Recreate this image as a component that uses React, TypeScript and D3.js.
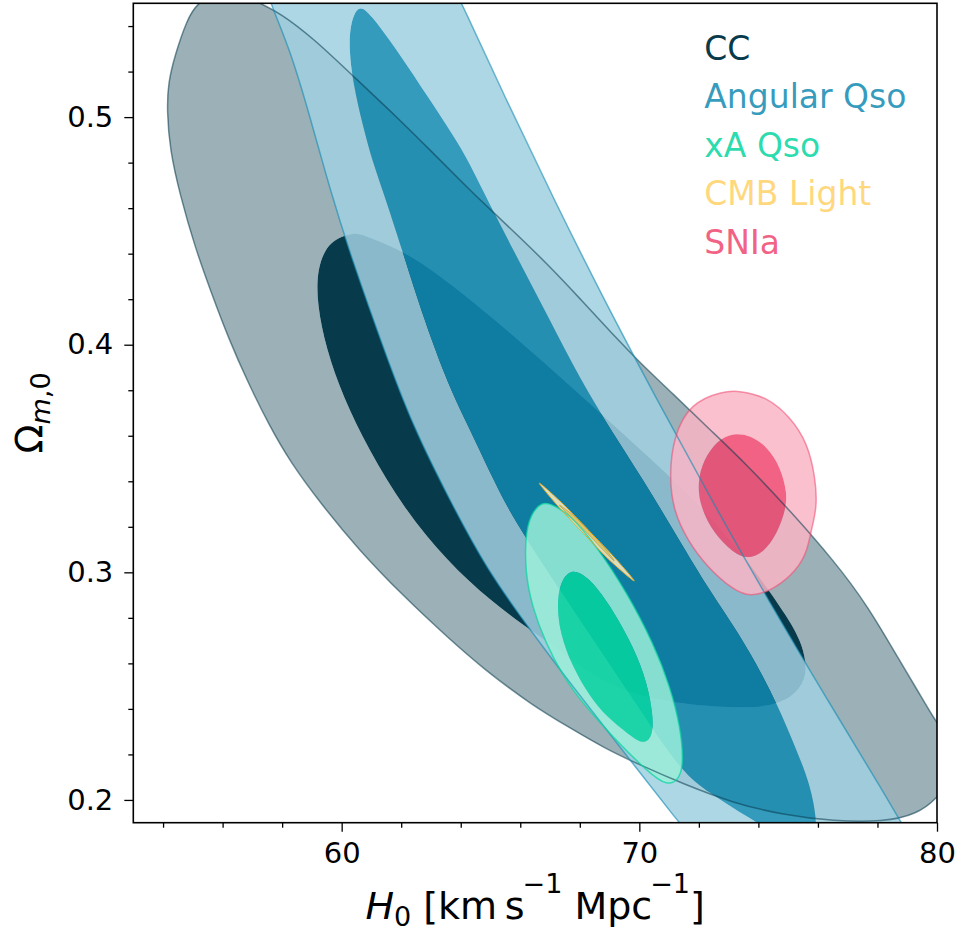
import { useEffect, useRef } from 'react';
import * as d3 from 'd3';

type Pt = [number, number]; // [H0, Omega_m0]

// contour outlines, in data units
const ccOuter: Pt[] = [
  [54.13, 0.5031], [54.23, 0.4855], [54.57, 0.4658], [55.07, 0.4429], [55.61, 0.4232],
  [56.22, 0.4021], [56.86, 0.3832], [57.56, 0.3647], [58.27, 0.3485], [59.28, 0.3305],
  [60.55, 0.3102], [62.10, 0.2892], [63.48, 0.2724], [64.72, 0.2580], [66.43, 0.2413],
  [67.68, 0.2316], [68.82, 0.2228], [70.03, 0.2153], [71.48, 0.2070], [73.16, 0.1986],
  [74.84, 0.1934], [76.52, 0.1907], [78.20, 0.1903], [79.34, 0.1938], [80.01, 0.2008],
  [80.49, 0.2096], [80.62, 0.2189], [80.35, 0.2276], [79.88, 0.2360], [79.34, 0.2483],
  [78.77, 0.2606], [77.66, 0.2856], [76.52, 0.3054], [75.07, 0.3269], [73.63, 0.3471],
  [72.28, 0.3638], [71.14, 0.3783], [70.03, 0.3920], [69.12, 0.4043], [68.02, 0.4201],
  [66.91, 0.4355], [65.76, 0.4500], [64.65, 0.4636], [64.08, 0.4710], [62.97, 0.4855],
  [61.86, 0.5000], [60.52, 0.5163], [59.04, 0.5348], [57.93, 0.5457], [57.26, 0.5501],
  [56.59, 0.5541], [55.75, 0.5541], [55.14, 0.5501], [54.80, 0.5427], [54.40, 0.5273],
  [54.17, 0.5150],
];
const ccInner: Pt[] = [
  [60.42, 0.4491], [59.58, 0.4460], [59.17, 0.4337], [59.17, 0.4179], [59.48, 0.3981],
  [60.05, 0.3770], [60.89, 0.3542], [62.10, 0.3278], [63.54, 0.3050], [64.99, 0.2874],
  [66.54, 0.2729], [67.85, 0.2602], [69.02, 0.2496], [70.94, 0.2426], [73.16, 0.2404],
  [74.30, 0.2408], [75.17, 0.2452], [75.58, 0.2527], [75.61, 0.2606], [75.41, 0.2703],
  [74.97, 0.2804], [74.07, 0.2975], [72.89, 0.3173], [71.31, 0.3388], [69.43, 0.3612],
  [67.65, 0.3823], [65.83, 0.4034], [64.02, 0.4232], [62.23, 0.4407], [60.65, 0.4486],
];
const angOuter: Pt[] = [
  [57.60, 0.5501], [58.27, 0.5295], [58.94, 0.5000], [59.61, 0.4680], [60.35, 0.4372],
  [61.46, 0.3964], [62.37, 0.3647], [63.71, 0.3296], [64.89, 0.3010], [66.33, 0.2747],
  [67.85, 0.2483], [69.43, 0.2219], [71.31, 0.1903], [72.05, 0.1789], [75.58, 0.1683],
  [79.41, 0.1780], [78.77, 0.1903], [78.37, 0.1999], [76.32, 0.2439], [74.33, 0.2878],
  [72.42, 0.3318], [70.60, 0.3757], [68.82, 0.4196], [67.14, 0.4636], [65.53, 0.5075],
  [64.02, 0.5501], [63.68, 0.5602], [60.62, 0.5712], [57.33, 0.5624],
];
const angInner: Pt[] = [
  [60.55, 0.5497], [60.95, 0.5457], [61.86, 0.5295], [62.97, 0.5075], [64.08, 0.4855],
  [64.65, 0.4702], [65.76, 0.4416], [66.91, 0.4131], [68.02, 0.3845], [69.09, 0.3616],
  [70.13, 0.3406], [71.14, 0.3186], [72.28, 0.2935], [73.16, 0.2768], [73.96, 0.2593],
  [74.64, 0.2417], [75.24, 0.2232], [75.75, 0.2066], [75.98, 0.1899], [75.91, 0.1780],
  [74.74, 0.1780], [74.07, 0.1899], [73.39, 0.1942], [72.38, 0.2030], [71.44, 0.2118],
  [70.03, 0.2395], [68.69, 0.2659], [67.34, 0.2922], [66.17, 0.3155], [65.56, 0.3287],
  [64.99, 0.3436], [64.32, 0.3625], [63.58, 0.3823], [62.77, 0.4109], [62.03, 0.4416],
  [61.49, 0.4636], [61.02, 0.4811], [60.72, 0.4957], [60.38, 0.5150], [60.25, 0.5295],
  [60.28, 0.5405],
];
const xaOuter: Pt[] = [
  [66.74, 0.3313], [67.11, 0.3296], [67.68, 0.3252], [68.59, 0.3111], [69.59, 0.2909],
  [70.47, 0.2689], [71.04, 0.2496], [71.38, 0.2320], [71.48, 0.2175], [71.38, 0.2096],
  [70.94, 0.2057], [70.27, 0.2127], [69.36, 0.2241], [68.08, 0.2426], [67.41, 0.2549],
  [66.84, 0.2694], [66.40, 0.2848], [66.17, 0.2997], [66.17, 0.3155], [66.33, 0.3252],
];
const xaInner: Pt[] = [
  [67.68, 0.3023], [68.35, 0.2975], [69.12, 0.2834], [69.80, 0.2672], [70.27, 0.2514],
  [70.47, 0.2364], [70.44, 0.2276], [70.13, 0.2241], [69.59, 0.2294], [68.92, 0.2364],
  [68.35, 0.2452], [67.75, 0.2584], [67.34, 0.2733], [67.24, 0.2848], [67.31, 0.2944],
];
const cmbOuter: Pt[] = [
  [66.64, 0.3392], [67.51, 0.3291], [68.28, 0.3186], [69.09, 0.3076], [69.83, 0.2962],
  [68.96, 0.3058], [68.15, 0.3168], [67.38, 0.3274],
];
const cmbInner: Pt[] = [
  [67.31, 0.3296], [67.85, 0.3243], [68.32, 0.3181], [68.75, 0.3120], [69.16, 0.3050],
  [68.69, 0.3111], [68.25, 0.3173], [67.78, 0.3234],
];
const snOuter: Pt[] = [
  [72.82, 0.3797], [73.39, 0.3797], [74.30, 0.3770], [75.07, 0.3682], [75.65, 0.3568],
  [75.91, 0.3419], [75.98, 0.3287], [75.75, 0.3173], [75.65, 0.3098], [75.31, 0.3010],
  [74.50, 0.2922], [73.73, 0.2892], [73.16, 0.2922], [72.28, 0.3023], [71.61, 0.3142],
  [71.14, 0.3274], [71.01, 0.3419], [71.14, 0.3594], [71.71, 0.3744],
];
const snInner: Pt[] = [
  [73.16, 0.3612], [73.73, 0.3603], [74.30, 0.3551], [74.74, 0.3463], [74.97, 0.3348],
  [74.91, 0.3274], [74.64, 0.3173], [74.17, 0.3085], [73.63, 0.3058], [73.16, 0.3085],
  [72.49, 0.3173], [72.05, 0.3287], [71.95, 0.3392], [72.15, 0.3493], [72.62, 0.3581],
];

const legendLabels = ['CC', 'Angular Qso', 'xA Qso', 'CMB Light', 'SNIa'];
const chainColors = ['#073b4c', '#118ab2', '#06d6a0', '#ffd166', '#ef476f'];
const chainAlpha = [1, 0.85, 0.85, 0.85, 0.85];

const xTicks = [60, 70, 80];
const xMinorTicks = [54, 56, 58, 62, 64, 66, 68, 72, 74, 76, 78];
const yTicks = [0.2, 0.3, 0.4, 0.5];
const yMinorTicks = [0.22, 0.24, 0.26, 0.28, 0.32, 0.34, 0.36, 0.38, 0.42, 0.44, 0.46, 0.48, 0.52, 0.54];

const W = 961;
const H = 932;
const margin = { top: 3.3, right: 24, bottom: 109.3, left: 133.3 };
const FONT = '"DejaVu Sans", sans-serif';

export default function App() {
  const svgRef = useRef<SVGSVGElement>(null);

  useEffect(() => {
    if (!svgRef.current) return;
    const svg = d3.select(svgRef.current);
    svg.selectAll('*').remove();

    const innerW = W - margin.left - margin.right;
    const innerH = H - margin.top - margin.bottom;

    const x = d3.scaleLinear().domain([53, 80]).range([0, innerW]);
    const y = d3.scaleLinear().domain([0.19, 0.55]).range([innerH, 0]);

    svg.append('defs').append('clipPath').attr('id', 'plot-clip')
      .append('rect').attr('width', innerW).attr('height', innerH);

    const g = svg.append('g').attr('transform', `translate(${margin.left},${margin.top})`);
    const plot = g.append('g').attr('clip-path', 'url(#plot-clip)');

    // smooth contours; the thin CMB ellipse keeps its pointed ends
    const smooth = d3.line<Pt>().x(d => x(d[0])).y(d => y(d[1])).curve(d3.curveBasisClosed);
    const sharp = d3.line<Pt>().x(d => x(d[0])).y(d => y(d[1])).curve(d3.curveCatmullRomClosed.alpha(0.5));

    const chains = [
      { outer: ccOuter, inner: ccInner, line: smooth },
      { outer: angOuter, inner: angInner, line: smooth },
      { outer: xaOuter, inner: xaInner, line: smooth },
      { outer: cmbOuter, inner: cmbInner, line: sharp },
      { outer: snOuter, inner: snInner, line: smooth },
    ].map((c, i) => ({ ...c, color: chainColors[i], alpha: chainAlpha[i] }));

    chains.forEach(c => {
      const light = d3.interpolateRgb('#ffffff', c.color)(0.4);
      plot.append('path')
        .attr('d', (c.line(c.outer) || '') + (c.line(c.inner) || ''))
        .attr('fill', light)
        .attr('fill-rule', 'evenodd')
        .attr('fill-opacity', c.alpha);
      plot.append('path')
        .attr('d', c.line(c.inner))
        .attr('fill', c.color)
        .attr('fill-opacity', c.alpha);
    });

    // outlines on top
    const outlines = [
      { d: smooth(ccOuter), color: chainColors[0], op: 0.55, w: 1.5 },
      { d: smooth(angOuter), color: chainColors[1], op: 0.6, w: 1.5 },
      { d: smooth(xaOuter), color: chainColors[2], op: 0.7, w: 1.5 },
      { d: sharp(cmbOuter), color: '#d9a326', op: 0.9, w: 1 },
      { d: sharp(cmbInner), color: '#d9a326', op: 0.6, w: 0.8 },
      { d: smooth(snOuter), color: chainColors[4], op: 0.55, w: 1.5 },
    ];
    outlines.forEach(o => {
      plot.append('path')
        .attr('d', o.d)
        .attr('fill', 'none')
        .attr('stroke', o.color)
        .attr('stroke-opacity', o.op)
        .attr('stroke-width', o.w);
    });

    // axes
    const styleAxis = (sel: d3.Selection<SVGGElement, unknown, null, undefined>) => {
      sel.select('.domain').remove();
      sel.selectAll('.tick line').attr('stroke', '#000').attr('stroke-width', 1.3);
      sel.selectAll('.tick text').attr('fill', '#000');
      sel.attr('font-family', FONT).attr('font-size', 29);
    };

    g.append('g').attr('transform', `translate(0,${innerH})`)
      .call(d3.axisBottom(x).tickValues(xTicks).tickSize(9).tickPadding(11).tickFormat(d3.format('d')))
      .call(styleAxis);
    g.append('g').attr('transform', `translate(0,${innerH})`)
      .call(d3.axisBottom(x).tickValues(xMinorTicks).tickSize(5).tickFormat(() => ''))
      .call(styleAxis);
    g.append('g')
      .call(d3.axisLeft(y).tickValues(yTicks).tickSize(9).tickPadding(11).tickFormat(d3.format('.1f')))
      .call(styleAxis);
    g.append('g')
      .call(d3.axisLeft(y).tickValues(yMinorTicks).tickSize(5).tickFormat(() => ''))
      .call(styleAxis);

    g.append('rect')
      .attr('width', innerW).attr('height', innerH)
      .attr('fill', 'none').attr('stroke', '#000').attr('stroke-width', 1.6);

    // legend (text only)
    const leg = g.append('g').attr('font-family', FONT).attr('font-size', 33);
    legendLabels.forEach((lab, i) => {
      leg.append('text')
        .attr('x', 571)
        .attr('y', 56.7 + i * 48.5)
        .attr('fill', chainColors[i])
        .attr('fill-opacity', chainAlpha[i])
        .text(lab);
    });

    // x label
    const xl = svg.append('text')
      .attr('x', margin.left + innerW / 2)
      .attr('y', 919)
      .attr('text-anchor', 'middle')
      .attr('font-family', FONT)
      .attr('font-size', 38);
    xl.append('tspan').attr('font-style', 'italic').text('H');
    xl.append('tspan').attr('font-size', 27).attr('dy', 7).text('0');
    xl.append('tspan').attr('dy', -7).text('\u00a0[km\u2009s');
    xl.append('tspan').attr('font-size', 27).attr('dy', -26).attr('dx', -2).text('\u22121');
    xl.append('tspan').attr('dy', 26).text('\u00a0Mpc');
    xl.append('tspan').attr('font-size', 27).attr('dy', -26).attr('dx', -2).text('\u22121');
    xl.append('tspan').attr('dy', 26).text(']');

    // y label
    const yl = svg.append('text')
      .attr('transform', `translate(42,${margin.top + innerH / 2}) rotate(-90)`)
      .attr('text-anchor', 'middle')
      .attr('font-family', FONT)
      .attr('font-size', 38);
    yl.append('tspan').text('\u03a9');
    yl.append('tspan').attr('font-size', 27).attr('dy', 8).attr('font-style', 'italic').text('m');
    yl.append('tspan').attr('font-size', 27).text(',0');
  }, []);

  return (
    <div style={{ position: 'absolute', left: 0, top: 0 }}>
      <svg ref={svgRef} width={W} height={H} style={{ display: 'block', background: '#fff' }} />
    </div>
  );
}
